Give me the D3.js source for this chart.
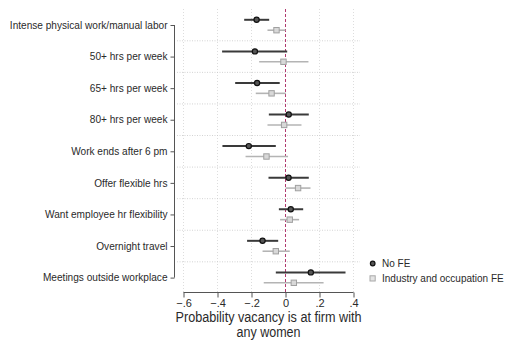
<!DOCTYPE html>
<html>
<head>
<meta charset="utf-8">
<script src="https://cdn.jsdelivr.net/npm/d3@7/dist/d3.min.js"></script>
<style>
  html, body { margin: 0; padding: 0; background: #fff; }
  svg { display: block; font-family: "Liberation Sans", Arial, Helvetica, sans-serif; }
</style>
</head>
<body>
<svg id="chart" width="507" height="340"></svg>
<script>
// Outcome categories, top to bottom
const categories = [
  "Intense physical work/manual labor",
  "50+ hrs per week",
  "65+ hrs per week",
  "80+ hrs per week",
  "Work ends after 6 pm",
  "Offer flexible hrs",
  "Want employee hr flexibility",
  "Overnight travel",
  "Meetings outside workplace"
];

// Coefficients and 95% confidence bounds, no fixed effects
const noFE     = [-0.170, -0.180, -0.167,  0.019, -0.216,  0.018,  0.031, -0.135,  0.149];
const noFELo   = [-0.243, -0.373, -0.296, -0.098, -0.371, -0.100, -0.039, -0.226, -0.057];
const noFEHi   = [-0.096,  0.010, -0.034,  0.137, -0.057,  0.137,  0.104, -0.043,  0.353];

// Coefficients and 95% confidence bounds, industry and occupation fixed effects
const indFE    = [-0.053, -0.012, -0.082, -0.008, -0.112,  0.074,  0.025, -0.057,  0.049];
const indFELo  = [-0.106, -0.155, -0.175, -0.106, -0.235,  0.000, -0.032, -0.135, -0.128];
const indFEHi  = [ 0.000,  0.135,  0.002,  0.094,  0.015,  0.147,  0.080,  0.025,  0.224];

const xTicks = [-0.6, -0.4, -0.2, 0, 0.2, 0.4];
const legendLabels = ["No FE", "Industry and occupation FE"];
const titleLines = ["Probability vacancy is at firm with", "any women"];

const svg = d3.select("#chart");

const x = d3.scaleLinear().domain([-0.6, 0.4]).range([183.5, 353.5]);
const y = d3.scalePoint().domain(categories).range([25, 277.6]);
const step = y.step();
const plotLeft = 177, plotRight = 360, plotTop = 9, axisY = 292.5, axisX = 174.5;

const darkCol = "#3a3a3a";
const lightCol = "#b4b4b4";
const textCol = "#2a2a2a";

// vertical dotted gridlines
svg.append("g").selectAll("line").data(xTicks.filter(d => d !== 0)).join("line")
  .attr("x1", d => x(d)).attr("x2", d => x(d))
  .attr("y1", plotTop).attr("y2", axisY)
  .attr("stroke", "#d4d4d4").attr("stroke-width", 0.8)
  .attr("stroke-dasharray", "1,2");

// horizontal dotted separators between categories
svg.append("g").selectAll("line").data(categories.slice(0, -1)).join("line")
  .attr("x1", plotLeft).attr("x2", plotRight)
  .attr("y1", d => y(d) + step / 2).attr("y2", d => y(d) + step / 2)
  .attr("stroke", "#c8c8c8").attr("stroke-width", 0.8)
  .attr("stroke-dasharray", "1,1.5");

// reference line at zero
svg.append("line")
  .attr("x1", x(0)).attr("x2", x(0))
  .attr("y1", plotTop).attr("y2", axisY)
  .attr("stroke", "#b03a6e").attr("stroke-width", 1)
  .attr("stroke-dasharray", "3,2");

// confidence intervals and point estimates
const rows = categories.map((c, i) => ({
  c, b0: noFE[i], l0: noFELo[i], h0: noFEHi[i],
  b1: indFE[i], l1: indFELo[i], h1: indFEHi[i]
}));
const off = 5.2;

svg.append("g").selectAll("line").data(rows).join("line")
  .attr("x1", d => x(d.l1)).attr("x2", d => x(d.h1))
  .attr("y1", d => y(d.c) + off).attr("y2", d => y(d.c) + off)
  .attr("stroke", lightCol).attr("stroke-width", 1.6);

svg.append("g").selectAll("line").data(rows).join("line")
  .attr("x1", d => x(d.l0)).attr("x2", d => x(d.h0))
  .attr("y1", d => y(d.c) - off).attr("y2", d => y(d.c) - off)
  .attr("stroke", darkCol).attr("stroke-width", 2);

svg.append("g").selectAll("rect").data(rows).join("rect")
  .attr("x", d => x(d.b1) - 2.7).attr("y", d => y(d.c) + off - 2.7)
  .attr("width", 5.4).attr("height", 5.4)
  .attr("fill", "#d8d8d8").attr("stroke", "#a0a0a0").attr("stroke-width", 1);

svg.append("g").selectAll("circle").data(rows).join("circle")
  .attr("cx", d => x(d.b0)).attr("cy", d => y(d.c) - off)
  .attr("r", 2.6)
  .attr("fill", "#555").attr("stroke", "#111").attr("stroke-width", 1.2);

// y axis
const yAxis = svg.append("g").attr("transform", `translate(${axisX},0)`)
  .call(d3.axisLeft(y).tickSize(4).tickPadding(3));
yAxis.select(".domain").attr("stroke", "#555").attr("d", `M-0,${y(categories[0])}V${y(categories[categories.length - 1])}`);
yAxis.selectAll(".tick line").attr("stroke", "#555");
yAxis.selectAll(".tick text").attr("fill", textCol).attr("font-size", 10.1)
  .attr("font-family", "Liberation Sans, Arial, sans-serif");

// x axis
const fmt = d => d === 0 ? "0" : (d < 0 ? "\u2212" : "") + String(Math.abs(d)).replace(/^0/, "");
const xAxis = svg.append("g").attr("transform", `translate(0,${axisY})`)
  .call(d3.axisBottom(x).tickValues(xTicks).tickFormat(fmt).tickSize(5).tickPadding(2));
xAxis.select(".domain").attr("stroke", "#555").attr("d", `M${x(-0.6)},0H${x(0.4)}`);
xAxis.selectAll(".tick line").attr("stroke", "#555");
xAxis.selectAll(".tick text").attr("fill", textCol).attr("font-size", 11)
  .attr("font-family", "Liberation Sans, Arial, sans-serif");

// axis title, two lines centred under the axis
const titleWidths = [186, 64];
svg.append("g").selectAll("text").data(titleLines).join("text")
  .attr("text-anchor", "middle")
  .attr("x", x(-0.1))
  .attr("y", (d, i) => 322 + i * 15)
  .attr("fill", textCol).attr("font-size", 14)
  .attr("textLength", (d, i) => titleWidths[i])
  .attr("lengthAdjust", "spacingAndGlyphs")
  .text(d => d);

// legend
const lg = svg.append("g");
lg.append("circle").attr("cx", 372.7).attr("cy", 263.5).attr("r", 2.3)
  .attr("fill", "#555").attr("stroke", "#111").attr("stroke-width", 1.2);
lg.append("rect").attr("x", 370).attr("y", 275.8).attr("width", 5.2).attr("height", 5.2)
  .attr("fill", "#e4e4e4").attr("stroke", "#a8a8a8").attr("stroke-width", 1);
lg.selectAll("text").data(legendLabels).join("text")
  .attr("x", 382).attr("y", (d, i) => 267.3 + i * 14.8)
  .attr("fill", textCol).attr("font-size", 10)
  .text(d => d);
</script>
</body>
</html>
